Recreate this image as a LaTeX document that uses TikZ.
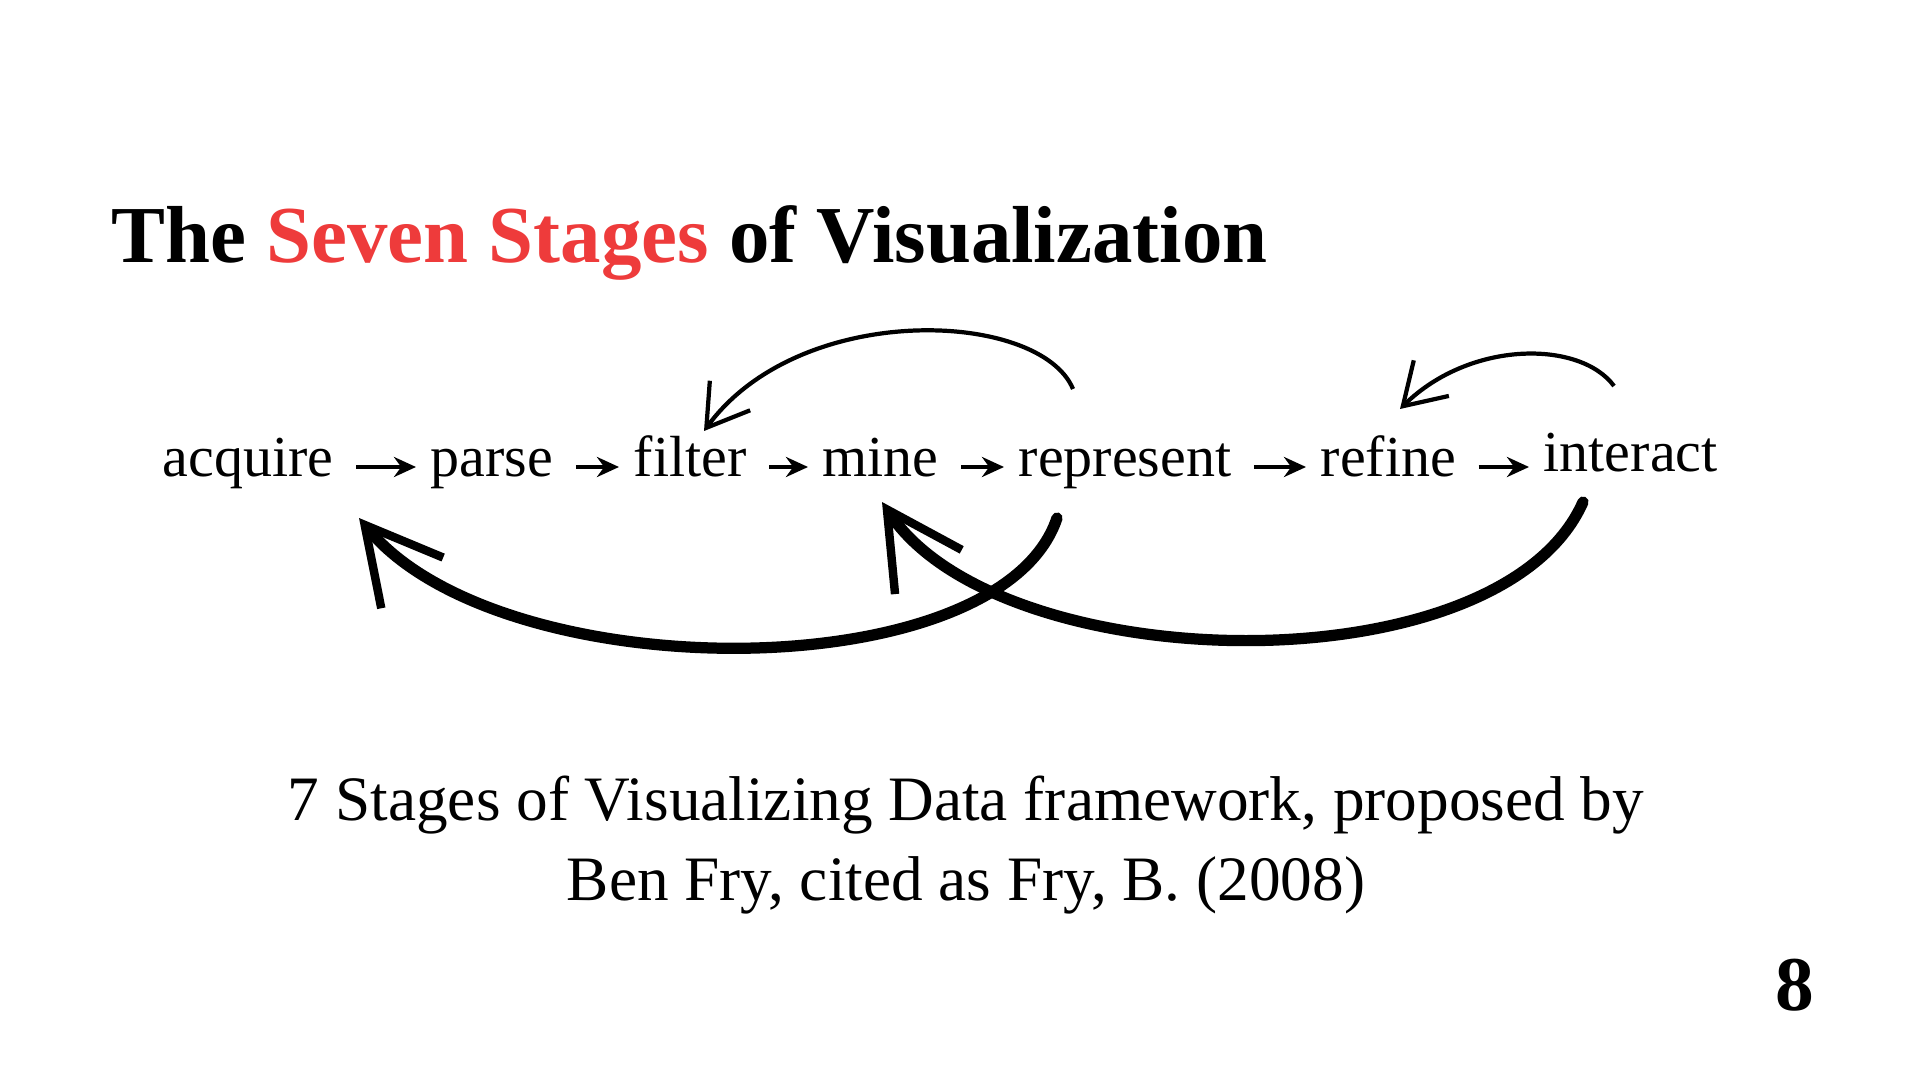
\documentclass[tikz,border=0pt]{standalone}
\usepackage{fontspec}
\setmainfont{Liberation Serif}
\usetikzlibrary{arrows.meta}
\definecolor{accent}{HTML}{EE3B3B}
\begin{document}
\begin{tikzpicture}[x=1cm,y=1cm,
  word/.style={anchor=base west,inner sep=0pt,font=\fontsize{16.5}{20}\selectfont},
  small/.style={-{Stealth[length=2.2mm,width=2mm]},line width=1.3pt},
  thinarc/.style={line width=1.2pt,-{Straight Barb[length=4mm,width=5mm]}},
  thickarc/.style={line width=3.2pt,line cap=round,-{Straight Barb[length=7.5mm,width=8mm,line width=2.4pt]}}]
\useasboundingbox (0,0) rectangle (19.2,-10.8);
\node[anchor=base west,inner sep=0pt,font=\fontsize{23}{28}\selectfont\bfseries] (title) at (1.11,-2.63) {The \textcolor{accent}{Seven Stages} of Visualization};
\node[word] (acq) at (1.62,-4.77) {acquire};
\node[word] (par) at (4.30,-4.77) {parse};
\node[word] (fil) at (6.33,-4.77) {filter};
\node[word] (min) at (8.22,-4.77) {mine};
\node[word] (rep) at (10.18,-4.77) {represent};
\node[word] (ref) at (13.20,-4.77) {refine};
\node[word] (int) at (15.43,-4.71) {interact};
\foreach \p/\q/\y in {acq/par/-4.67,par/fil/-4.67,fil/min/-4.67,min/rep/-4.67,rep/ref/-4.67,ref/int/-4.67}{
  \draw[small] ([xshift=2.2mm]\p.east |- 0,\y) -- ([xshift=-1.4mm]\q.west |- 0,\y);}
\coordinate (u1s) at (10.73,-3.89); \coordinate (u1e) at (7.04,-4.31);
\draw[thinarc] (u1s) .. controls (10.4,-3.1) and (8.0,-3.0) .. (u1e);
\coordinate (u2s) at (16.14,-3.86); \coordinate (u2e) at (14.00,-4.09);
\draw[thinarc] (u2s) .. controls (15.8,-3.4) and (14.7,-3.4) .. (u2e);
\coordinate (l1s) at (10.57,-5.18); \coordinate (l1e) at (3.59,-5.18);
\draw[thickarc] (l1s) .. controls (10.0,-6.9) and (5.0,-6.9) .. (l1e);
\coordinate (l2s) at (15.83,-5.02); \coordinate (l2e) at (8.82,-5.02);
\draw[thickarc] (l2s) .. controls (15.0,-6.9) and (10.0,-6.8) .. (l2e);
\node[anchor=base,inner sep=0pt,font=\fontsize{18}{22}\selectfont] (sub1) at (9.66,-8.20) {7 Stages of Visualizing Data framework, proposed by};
\node[anchor=base,inner sep=0pt,font=\fontsize{18}{22}\selectfont] (sub2) at (9.66,-9.00) {Ben Fry, cited as Fry, B. (2008)};
\node[anchor=base,inner sep=0pt,font=\fontsize{22}{26}\selectfont\bfseries] (pg) at (17.95,-10.10) {8};
\end{tikzpicture}
\end{document}
